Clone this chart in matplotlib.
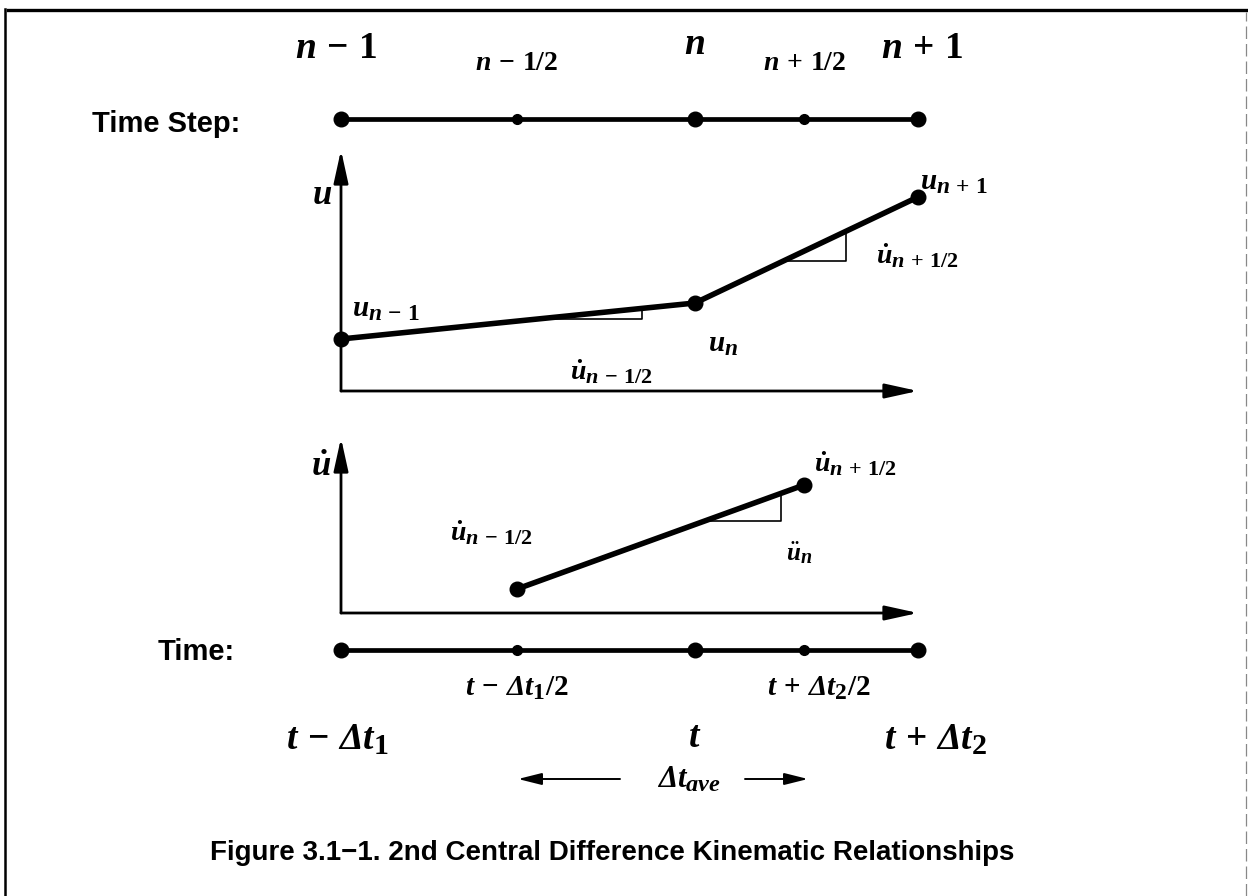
import numpy as np
import matplotlib
matplotlib.use("Agg")
import matplotlib.pyplot as plt
from matplotlib.lines import Line2D
from matplotlib.patches import FancyArrowPatch
import matplotlib._mathtext as _mt

_mt.SHRINK_FACTOR = 0.8

plt.rcParams['mathtext.fontset'] = 'custom'
plt.rcParams['mathtext.it'] = 'Liberation Serif:italic:bold'
plt.rcParams['mathtext.rm'] = 'Liberation Serif:bold'
plt.rcParams['mathtext.bf'] = 'Liberation Serif:bold'
plt.rcParams['mathtext.cal'] = 'Liberation Serif:italic:bold'

# ---------------- data (diagram units) ----------------
# time of each step, with t_{n-1}=0 and t_n=1
step_labels = [r'$n\,-\,1$', r'$n\,-\,1/2$', r'$n$', r'$n\,+\,1/2$', r'$n\,+\,1$']
step_times = [0.0, 0.497, 1.0, 1.308, 1.63]
step_major = [True, False, True, False, True]
time_labels = [r'$t\,-\,\mathcal{\Delta}t_1$', r'$t\,-\,\mathcal{\Delta}t_1/2$', r'$t$',
               r'$t\,+\,\mathcal{\Delta}t_2/2$', r'$t\,+\,\mathcal{\Delta}t_2$']

# displacement at full steps
u_times = [0.0, 1.0, 1.63]
u_values = [0.52, 0.88, 1.94]
u_labels = [r'$u_{n\,-\,1}$', r'$u_n$', r'$u_{n\,+\,1}$']

# velocity at half steps
v_times = [0.497, 1.308]
v_values = [0.24, 1.28]
v_labels = [r'$\dot{u}_{n\,-\,1/2}$', r'$\dot{u}_{n\,+\,1/2}$']

# slope triangles (start, end time)
u_tri = [(0.542, 0.850), (1.249, 1.427)]
u_tri_labels = [r'$\dot{u}_{n\,-\,1/2}$', r'$\dot{u}_{n\,+\,1/2}$']
v_tri = [(1.025, 1.243)]
v_tri_labels = [r'$\ddot{u}_n$']

# ---------------- layout ----------------
W, H = 1248, 896
fig = plt.figure(figsize=(W / 100, H / 100), dpi=100)
fig.patch.set_facecolor('white')

def F(px, py):
    return (px / W, 1 - py / H)

def box(x0, x1, ytop, ybot):
    return [x0 / W, 1 - ybot / H, (x1 - x0) / W, (ybot - ytop) / H]

X0, X1 = 341, 918
TMAX = 1.63

def ftext(px, py, s, size, ha='center', va='center', **kw):
    x, y = F(px, py)
    fig.text(x, y, s, fontsize=size, ha=ha, va=va, transform=fig.transFigure, **kw)

# border
fig.add_artist(Line2D([8 / W, 1.0], [F(0, 10)[1]] * 2, transform=fig.transFigure,
                      color='black', lw=2.4))
fig.add_artist(Line2D([5 / W] * 2, [0, F(0, 9)[1]], transform=fig.transFigure,
                      color='black', lw=1.8))
fig.add_artist(Line2D([1245.5 / W] * 2, [0, F(0, 12)[1]], transform=fig.transFigure,
                      color='#888888', lw=0.9, ls=(0, (10, 4))))

def arrow_axes(ax):
    kw = dict(arrowstyle='-|>,head_length=1.0,head_width=0.22', lw=2.0, color='black',
              mutation_scale=20, shrinkA=0, shrinkB=0)
    ax.annotate('', xy=(1, 0), xytext=(0, 0), xycoords='axes fraction', arrowprops=kw)
    ax.annotate('', xy=(0, 1), xytext=(0, 0), xycoords='axes fraction', arrowprops=kw)

def timeline(ytop, ybot):
    ax = fig.add_axes(box(X0, X1, ytop, ybot))
    ax.set_xlim(0, TMAX)
    ax.set_ylim(-1, 1)
    ax.axis('off')
    ax.plot([step_times[0], step_times[-1]], [0, 0], color='black', lw=3.4,
            solid_capstyle='butt', clip_on=False)
    for t, m in zip(step_times, step_major):
        ax.plot([t], [0], 'o', color='black', ms=10.5 if m else 7, clip_on=False)
    return ax

sans = dict(family='Liberation Sans', weight='bold')

# ---- Time step line ----
timeline(104, 134)
ftext(92, 124, 'Time Step:', 21, ha='left', **sans)
step_lab_pos = [(336, 48, 27), (517, 62, 20), (695, 44, 27), (805, 62, 20), (922, 48, 27)]
for s, (px, py, sz) in zip(step_labels, step_lab_pos):
    ftext(px, py, s, sz)

# ---- displacement plot ----
axu = fig.add_axes(box(X0, X1, 150, 391))
axu.set_xlim(0, TMAX)
axu.set_ylim(0, 2.41)
axu.axis('off')
arrow_axes(axu)
axu.plot(u_times, u_values, color='black', lw=4.0, solid_capstyle='round', clip_on=False)
axu.plot(u_times, u_values, 'o', color='black', ms=10.5, clip_on=False)
for (ta, tb) in u_tri:
    ya, yb = np.interp([ta, tb], u_times, u_values)
    axu.plot([ta, tb, tb], [ya, ya, yb], color='black', lw=1.2, clip_on=False)
ftext(322, 194, r'$u$', 25)
for s, (px, py) in zip(u_labels, [(352, 309), (708, 344), (920, 182)]):
    ftext(px, py, s, 21, ha='left')
for s, (px, py) in zip(u_tri_labels, [(570, 372), (876, 256)]):
    ftext(px, py, s, 20, ha='left')

# ---- velocity plot ----
axv = fig.add_axes(box(X0, X1, 438, 613))
axv.set_xlim(0, TMAX)
axv.set_ylim(0, 1.75)
axv.axis('off')
arrow_axes(axv)
axv.plot(v_times, v_values, color='black', lw=4.0, solid_capstyle='round', clip_on=False)
axv.plot(v_times, v_values, 'o', color='black', ms=10.5, clip_on=False)
for (ta, tb) in v_tri:
    ya, yb = np.interp([ta, tb], v_times, v_values)
    axv.plot([ta, tb, tb], [ya, ya, yb], color='black', lw=1.2, clip_on=False)
ftext(321, 466, r'$\dot{u}$', 25)
for s, (px, py) in zip(v_labels, [(450, 533), (814, 464)]):
    ftext(px, py, s, 20, ha='left')
for s, (px, py) in zip(v_tri_labels, [(786, 553)]):
    ftext(px, py, s, 18, ha='left')

# ---- time line ----
timeline(635, 665)
ftext(158, 652, 'Time:', 21, ha='left', **sans)
time_lab_pos = [(337, 740, 27), (517, 688, 21), (695, 737, 27), (819, 688, 21), (935, 740, 27)]
for s, (px, py, sz) in zip(time_labels, time_lab_pos):
    ftext(px, py, s, sz)

# average interval arrows
akw = dict(arrowstyle='-|>,head_length=0.8,head_width=0.2', lw=1.4, color='black',
           mutation_scale=18, shrinkA=0, shrinkB=0)
fig.add_artist(FancyArrowPatch(F(620, 779), F(518, 779), transform=fig.transFigure, **akw))
fig.add_artist(FancyArrowPatch(F(745, 779), F(808, 779), transform=fig.transFigure, **akw))
ftext(689, 779, r'$\mathcal{\Delta}t_{ave}$', 22)

# caption
ftext(612, 853, 'Figure 3.1\u22121. 2nd Central Difference Kinematic Relationships', 20, **sans)

fig.savefig('out.png', dpi=100, facecolor='white')
